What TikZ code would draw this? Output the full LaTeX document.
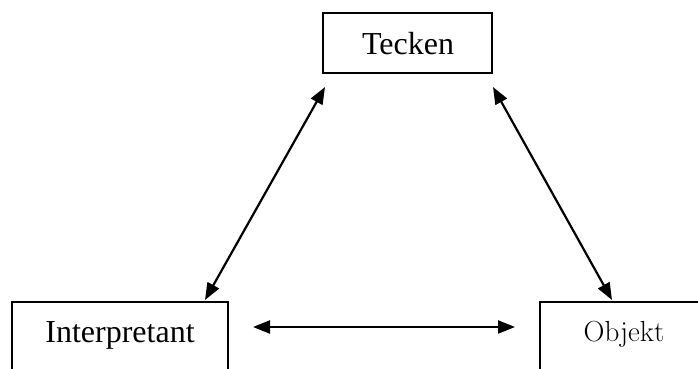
\documentclass[tikz,border=0pt]{standalone}
\usepackage{fontspec}
\setmainfont{Liberation Serif}
\newfontfamily\objfont{Latin Modern Roman}
\usetikzlibrary{arrows.meta}
\begin{document}
\begin{tikzpicture}[x=1pt,y=1pt,
  box/.style={draw=black,line width=1.7pt,rectangle,inner sep=0pt},
  lbl/.style={inner sep=0pt,anchor=base,font=\fontsize{32}{38}\selectfont},
  conn/.style={line width=2.2pt,{Triangle[length=17pt,width=13pt]}-{Triangle[length=17pt,width=13pt]}}]
\useasboundingbox (0,0) rectangle (698,369);
\clip (0,0) rectangle (698,369);
% boxes
\node[box,minimum width=169pt,minimum height=60pt] (tecken) at (407.5,326) {};
\node[box,minimum width=216pt,minimum height=100pt] (interp) at (120,17) {};
\node[box,minimum width=216pt,minimum height=100pt] (objekt) at (648,17) {};
% labels
\node[lbl] (tlbl) at (408,314) {Tecken};
\node[lbl] (ilbl) at (120,26) {Interpretant};
\node[lbl,font=\objfont\fontsize{29}{34}\selectfont] (olbl) at (624,27) {Objekt};
% connector ends
\coordinate (tl) at (325,282);
\coordinate (tr) at (493,282);
\coordinate (il) at (205,69);
\coordinate (or) at (612,69);
\coordinate (ih) at (253,42);
\coordinate (oh) at (515,42);
\draw[conn] (tl) -- (il);
\draw[conn] (tr) -- (or);
\draw[conn] (ih) -- (oh);
\end{tikzpicture}
\end{document}
